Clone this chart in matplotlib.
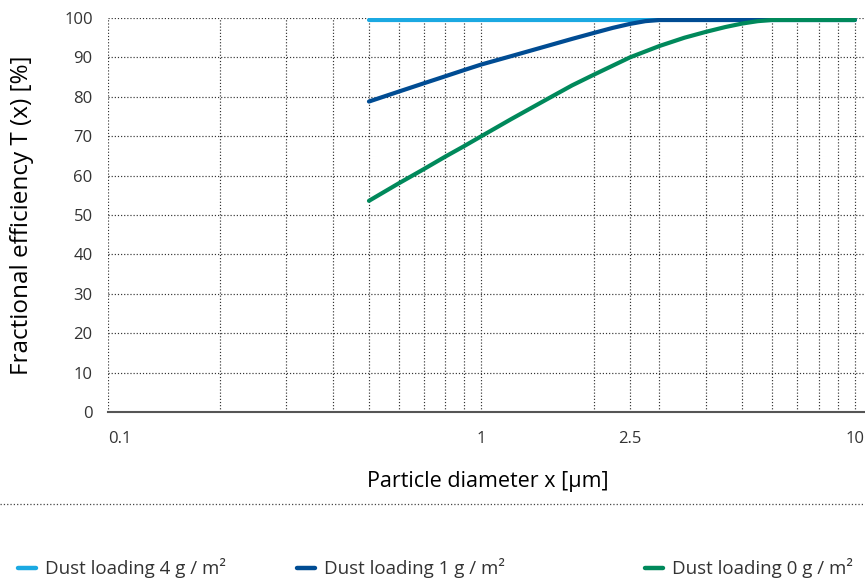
import matplotlib.pyplot as plt
import numpy as np
from matplotlib.lines import Line2D
from matplotlib.ticker import FixedLocator, NullFormatter

plt.rcParams['font.family'] = ['Open Sans', 'DejaVu Sans']
plt.rcParams['text.color'] = '#333333'

# Daten
x_4g = [0.5, 10]
y_4g = [99.5, 99.5]

x_1g = [0.5, 0.6, 0.7, 0.8, 0.9, 1.0, 1.2, 1.5, 1.75, 2.0, 2.25, 2.5, 2.75, 3.0, 3.5, 10.0]
y_1g = [78.8, 81.3, 83.4, 85.2, 86.8, 88.2, 90.3, 92.9, 94.7, 96.2, 97.5, 98.5, 99.2, 99.5, 99.5, 99.5]

x_0g = [0.5, 0.6, 0.7, 0.8, 0.9, 1.0, 1.2, 1.5, 1.75, 2.0, 2.5, 3.0, 3.5, 4.0, 4.5, 5.0, 5.5, 6.0, 7.0, 10.0]
y_0g = [53.6, 58.0, 61.6, 64.8, 67.5, 70.0, 74.3, 79.4, 82.9, 85.6, 90.0, 92.9, 95.0, 96.5, 97.7, 98.6, 99.2, 99.5, 99.5, 99.5]

labels = ['Dust loading 4 g / m²', 'Dust loading 1 g / m²', 'Dust loading 0 g / m²']
colors = ['#1BA9E2', '#004C93', '#00895B']

xticks = [0.1, 1, 2.5, 10]
xtick_labels = ['0.1', '1', '2.5', '10']
yticks = list(range(0, 101, 10))

fig = plt.figure(figsize=(8.65, 5.85), dpi=100)
ax = fig.add_axes([108 / 865, 173 / 585, 1 - 108 / 865 + 0.002, (412 - 18) / 585])

ax.plot(x_4g, y_4g, color=colors[0], lw=3, solid_capstyle='round', zorder=3)
ax.plot(x_1g, y_1g, color=colors[1], lw=3, solid_capstyle='round', solid_joinstyle='round', zorder=4)
ax.plot(x_0g, y_0g, color=colors[2], lw=3, solid_capstyle='round', solid_joinstyle='round', zorder=5)

ax.set_xscale('log')
ax.set_xlim(0.1, 10.77)
ax.set_ylim(0, 100)
ax.set_xticks(xticks)
ax.set_xticklabels(xtick_labels)
minor = [m * 10.0 ** e for e in (-1, 0) for m in range(2, 10)]
ax.xaxis.set_minor_locator(FixedLocator(minor))
ax.xaxis.set_minor_formatter(NullFormatter())
ax.set_yticks(yticks)

ax.grid(True, which='both', axis='x', ls=':', color='#333333', lw=0.85)
ax.grid(True, which='major', axis='y', ls=':', color='#333333', lw=0.85)
ax.tick_params(which='both', length=0, labelsize=12, colors='#333333')
ax.tick_params(axis='y', pad=11)
ax.tick_params(axis='x', pad=14)
ax.get_xticklabels()[0].set_ha('left')

for s in ['top', 'right', 'left']:
    ax.spines[s].set_visible(False)
ax.spines['bottom'].set_color('#555555')
ax.spines['bottom'].set_linewidth(1.5)
ax.spines['bottom'].set_zorder(6)

ax.set_xlabel('Particle diameter x [µm]', fontsize=15.5, labelpad=17)
ax.set_ylabel('Fractional efficiency T (x) [%]', fontsize=17.5)
ax.yaxis.set_label_coords((34 - 108) / 757, 0.5)

# Trennlinie und Legende unten
fig.add_artist(Line2D([0, 1], [1 - 504 / 585] * 2, transform=fig.transFigure,
                      ls=':', color='#444444', lw=0.9))
leg_x = [18, 297, 645]
ly = 1 - 568 / 585
for i in range(3):
    fig.add_artist(Line2D([leg_x[i] / 865, (leg_x[i] + 18) / 865], [ly, ly],
                          transform=fig.transFigure, color=colors[i], lw=3.2,
                          solid_capstyle='round'))
    fig.text((leg_x[i] + 27) / 865, ly, labels[i], fontsize=13.5, va='center', ha='left')

fig.savefig('out.png', dpi=100)
